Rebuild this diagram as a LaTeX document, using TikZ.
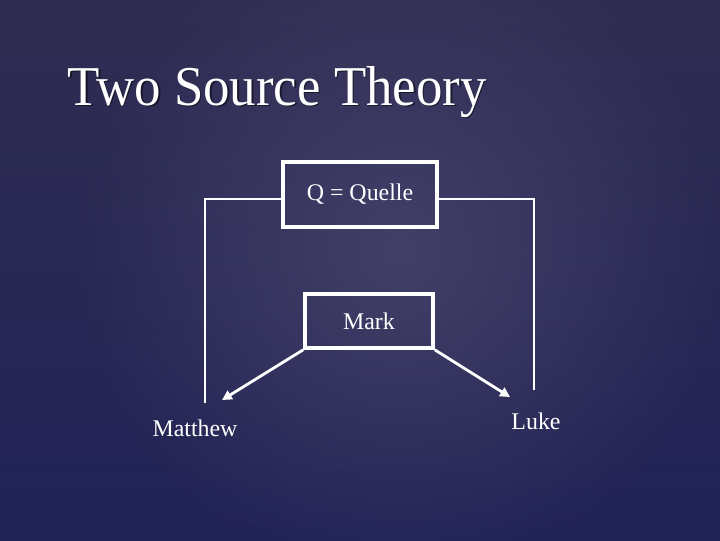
\documentclass[tikz,border=0pt]{standalone}
\usepackage{fontspec}
\setmainfont{Liberation Serif}
\usetikzlibrary{arrows.meta,positioning,calc,fadings}
\definecolor{slatetop}{RGB}{48,45,82}
\definecolor{slatebot}{RGB}{32,34,86}
\definecolor{slatelight}{RGB}{66,64,104}
\tikzfading[name=glow,inner color=transparent!0,outer color=transparent!100]

\tikzset{
  srcbox/.style={draw=white,line width=2.6pt,inner sep=0pt,text=white},
  label/.style={text=white,font=\fontsize{17}{19}\selectfont},
  link/.style={draw=white,line width=2pt},
  flow/.style={link,-{Triangle[length=7pt,width=7pt]}}
}

\begin{document}
\begin{tikzpicture}[x=0.025cm,y=-0.025cm]
  \useasboundingbox (0,0) rectangle (720,540);
  \clip (0,0) rectangle (720,540);
  % background
  \shade[top color=slatetop,bottom color=slatebot] (0,0) rectangle (720,540);
  \fill[slatelight,path fading=glow] (400,250) circle (330);

  % title
  \node[text=black,opacity=0.5,anchor=base west,xscale=0.94,font=\fontsize{40}{44}\selectfont] at (64.5,106.5) {Two Source Theory};
  \node[text=white,anchor=base west,xscale=0.94,font=\fontsize{40}{44}\selectfont] (title) at (63,105) {Two Source Theory};

  % sources
  \node[srcbox,minimum width=3.85cm,minimum height=1.625cm,label] (quelle) at (360,194.5) {Q = Quelle};
  \node[srcbox,minimum width=3.2cm,minimum height=1.35cm,label] (mark) at (369,321) {Mark};

  % gospels
  \node[label] (matthew) at (195,428) {Matthew};
  \node[label] (luke) at (536,421) {Luke};

  \coordinate (qleft) at (205,403);
  \coordinate (qright) at (534,390);
  \coordinate (mtip) at (222,400);
  \coordinate (ltip) at (510,397);

  % Q to Matthew and Luke
  \draw[link] (quelle.west |- 0,199) -| (qleft);
  \draw[link] (quelle.east |- 0,199) -| (qright);

  % Mark to Matthew and Luke
  \draw[flow] (mark.south west) -- (mtip);
  \draw[flow] (mark.south east) -- (ltip);
\end{tikzpicture}
\end{document}
